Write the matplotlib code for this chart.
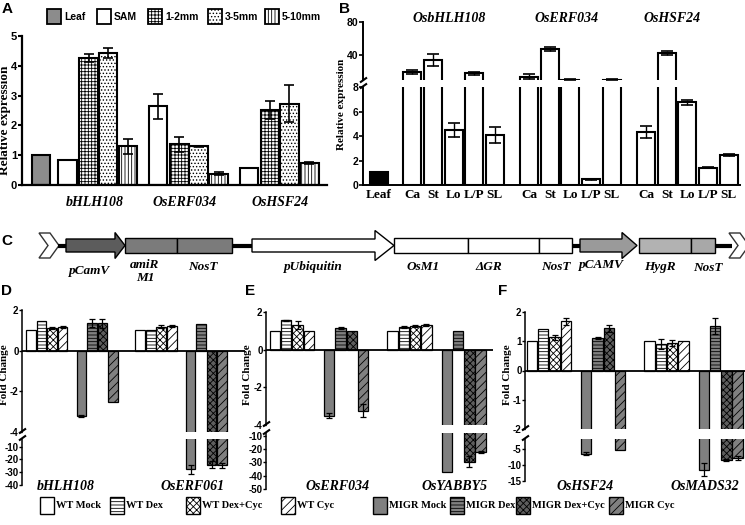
import matplotlib
matplotlib.use("Agg")
import matplotlib.pyplot as plt
from matplotlib.patches import Rectangle, Polygon
import numpy as np

W, H = 745, 525
plt.rcParams['hatch.linewidth'] = 0.6
plt.rcParams['axes.unicode_minus'] = False
SERIF = 'Liberation Serif'
SANS = 'Liberation Sans'

# ---------------- panel A: expression across stages
a_genes = ['bHLH108', 'OsERF034', 'OsHSF24']
a_stages = ['SAM', '1-2mm', '3-5mm', '5-10mm']
a_leaf = 1.0
a_vals = [[0.83, 4.27, 4.42, 1.30],
          [2.65, 1.37, 1.30, 0.38],
          [0.58, 2.52, 2.72, 0.73]]
a_errs = [[0.0, 0.13, 0.17, 0.25],
          [0.42, 0.25, 0.02, 0.05],
          [0.0, 0.30, 0.62, 0.04]]

# ---------------- panel B: expression across tissues
b_genes = ['OsbHLH108', 'OsERF034', 'OsHSF24']
b_tissues = ['Ca', 'St', 'Lo', 'L/P', 'SL']
b_leaf = 1.05
b_vals = [[19.5, 34.0, 4.5, 18.0, 4.1],
          [13.7, 47.0, 10.6, 0.45, 10.6],
          [4.3, 42.5, 6.75, 1.4, 2.45]]
b_errs = [[2.0, 7.0, 0.55, 1.5, 0.65],
          [3.0, 2.4, 0.5, 0.05, 0.2],
          [0.5, 2.8, 0.18, 0.05, 0.1]]

# ---------------- panels D-F: fold change
conds = ['WT Mock', 'WT Dex', 'WT Dex+Cyc', 'WT Cyc',
         'MIGR Mock', 'MIGR Dex', 'MIGR Dex+Cyc', 'MIGR Cyc']
d_genes = ['bHLH108', 'OsERF061']
d_vals = [[1.0, 1.48, 1.12, 1.17, -3.2, 1.35, 1.35, -2.5],
          [1.0, 1.0, 1.18, 1.2, -27.5, 1.3, -24.0, -24.5]]
d_errs = [[0, 0, 0.06, 0.04, 0.04, 0.2, 0.22, 0],
          [0, 0, 0.08, 0.06, 3.5, 0, 3.0, 2.0]]
e_genes = ['OsERF034', 'OsYABBY5']
e_vals = [[1.0, 1.55, 1.3, 1.0, -3.5, 1.17, 1.0, -3.25],
          [1.0, 1.2, 1.25, 1.3, -37.0, 1.0, -29.5, -22.5]]
e_errs = [[0, 0.05, 0.2, 0, 0.15, 0.05, 0, 0.35],
          [0, 0.05, 0.05, 0.05, 0, 0, 4.0, 0.8]]
f_genes = ['OsHSF24', 'OsMADS32']
f_vals = [[1.0, 1.42, 1.13, 1.68, -6.5, 1.1, 1.45, -5.3],
          [1.0, 0.9, 0.93, 1.0, -11.5, 1.52, -8.5, -8.0]]
f_errs = [[0, 0, 0.1, 0.13, 0.5, 0.03, 0.12, 0],
          [0, 0.18, 0.1, 0, 2.0, 0.27, 0.4, 0.6]]

cond_fill = ['white', 'white', 'white', 'white', '#808080', '#808080', '#5e5e5e', '#808080']
cond_hatch = ['', '-----', 'xxxxx', '////', '', '-----', 'xxxxx', '////']

# ---------------- construct (panel C)
c_parts = ['pCamV', 'amiR\nM1', 'NosT', 'pUbiquitin', 'OsM1', '\u0394GR', 'NosT', 'pCAMV', 'HygR', 'NosT']

fig = plt.figure(figsize=(W / 100, H / 100), dpi=100)


def px_axes(x0, y0, x1, y1):
    return fig.add_axes([x0 / W, 1 - y1 / H, (x1 - x0) / W, (y1 - y0) / H])


def clean(ax, lw=1.2, bottom=False):
    for s in ['top', 'right']:
        ax.spines[s].set_visible(False)
    ax.spines['bottom'].set_visible(bottom)
    ax.spines['left'].set_linewidth(lw)
    ax.spines['bottom'].set_linewidth(lw)
    ax.patch.set_alpha(0)


def bold_ticks(ax, size, fam=SANS):
    for t in ax.get_yticklabels():
        t.set_fontfamily(fam)
        t.set_fontweight('bold')
        t.set_fontsize(size)


# ---------------- A
axA = px_axes(22, 36, 327, 185)
a_c0, a_slot = 41, 19.5
stage_off = [0, 1.08, 2.08, 3.1]
a_hatch = ['', '+++++', '.....', '|||||']
axA.bar(0, a_leaf, width=0.95, color='#8c8c8c', edgecolor='k', lw=1.5)
for g in range(len(a_genes)):
    xs = [1.36 + 4.65 * g + o for o in stage_off]
    for k in range(4):
        axA.bar(xs[k], a_vals[g][k], width=0.95, color='white',
                edgecolor='k', lw=1.5, hatch=a_hatch[k])
        if a_errs[g][k] > 0:
            axA.errorbar(xs[k], a_vals[g][k], yerr=a_errs[g][k], fmt='none',
                         ecolor='k', elinewidth=1.2, capsize=3.5, capthick=1.2)
axA.set_xlim((22 - a_c0) / a_slot, (327 - a_c0) / a_slot)
axA.set_ylim(0, 5)
axA.set_yticks(range(6))
axA.set_xticks([])
clean(axA, lw=1.6, bottom=True)
axA.tick_params(axis='y', length=3, width=1.5, pad=0.5)
bold_ticks(axA, 8)

# ---------------- B (broken axis)
b_c0, b_slot = 379, 20.7
axBu = px_axes(363, 22, 740, 80)
axBl = px_axes(363, 87, 740, 185)
b_x = [0] + [1.6 + 5.65 * g + k for g in range(3) for k in range(5)]
b_y = [b_leaf] + [v for row in b_vals for v in row]
b_e = [0] + [v for row in b_errs for v in row]
b_col = ['k'] + ['white'] * 15
for ax, lim in ((axBu, (10, 80)), (axBl, (0, 8))):
    for x, y, e, c in zip(b_x, b_y, b_e, b_col):
        if y <= lim[0]:
            continue
        ax.bar(x, y, width=0.87, color=c, edgecolor='k', lw=1.5)
        if e > 0 and y <= lim[1]:
            ax.errorbar(x, y, yerr=e, fmt='none', ecolor='k', elinewidth=1.0,
                        capsize=4, capthick=1.2)
    ax.set_xlim((363 - b_c0) / b_slot, (740 - b_c0) / b_slot)
    ax.set_ylim(*lim)
axBu.set_yticks([40, 80])
axBu.set_xticks([])
clean(axBu, lw=1.4)
axBl.set_yticks([0, 2, 4, 6, 8])
clean(axBl, lw=1.4, bottom=True)
axBl.set_xticks(b_x)
axBl.set_xticklabels(['Leaf'] + b_tissues * 3, fontfamily=SERIF,
                     fontweight='bold', fontsize=9.5)
axBl.tick_params(axis='x', length=0, pad=3)
for ax in (axBu, axBl):
    ax.tick_params(axis='y', length=3, width=1.2, pad=0.5)
    bold_ticks(ax, 7.5)


# ---------------- D, E, F
def fold_panel(x0, x1, y_top, y_m1, y_m2, y_bot, up_lim, low_lim, up_ticks,
               low_ticks, c0, slot, vals, errs):
    au = px_axes(x0, y_top, x1, y_m1)
    al = px_axes(x0, y_m2, x1, y_bot)
    pos = [0, 1, 2, 3, 4.8, 5.8, 6.8, 7.8]
    for ax, lim in ((au, up_lim), (al, low_lim)):
        for g in range(len(vals)):
            for k in range(8):
                x = pos[k] + 10.4 * g
                v = vals[g][k]
                if v >= lim[1]:
                    continue  # bar does not reach this segment
                ax.bar(x, v, width=0.92, color=cond_fill[k],
                       edgecolor='k', lw=0.9, hatch=cond_hatch[k])
                if errs[g][k] > 0 and lim[0] <= v:
                    ax.errorbar(x, v, yerr=errs[g][k], fmt='none',
                                ecolor='k', elinewidth=0.9, capsize=2.2,
                                capthick=0.9)
        ax.set_xlim((x0 - c0) / slot, (x1 - c0) / slot)
        ax.set_ylim(*lim)
        ax.set_xticks([])
        clean(ax, lw=1.1)
        ax.tick_params(axis='y', length=2, width=1.0, pad=0.5)
    au.axhline(0, color='k', lw=1.3)
    au.set_yticks(up_ticks)
    al.set_yticks(low_ticks)
    for ax in (au, al):
        bold_ticks(ax, 7)
    return au, al


fold_panel(22, 245, 310, 432, 439, 485, (-4, 2), (-40, -4), [2, 0, -2, -4],
           [-10, -20, -30, -40], 31, 10.5, d_vals, d_errs)
fold_panel(266, 493, 312, 425, 433, 489, (-4, 2), (-50, -8), [2, 0, -2, -4],
           [-10, -20, -30, -40, -50], 275, 11.3, e_vals, e_errs)
fold_panel(525, 745, 312, 429, 439, 481, (-2, 2), (-15, -2), [2, 1, 0, -1, -2],
           [-5, -10, -15], 532, 11.3, f_vals, f_errs)

# ---------------- overlay: labels, diagram, legends
ov = fig.add_axes([0, 0, 1, 1], zorder=20)
ov.set_xlim(0, W)
ov.set_ylim(H, 0)
ov.axis('off')
ov.patch.set_visible(False)

for lab, x, y in [('A', 7, 9), ('B', 345, 9), ('C', 7, 241),
                  ('D', 7, 291), ('E', 250, 291), ('F', 503, 291)]:
    ov.text(x, y, lab, fontfamily=SANS, fontweight='bold', fontsize=11,
            ha='center', va='center')

# A legend
a_leg_x = [47, 97, 148, 208, 265]
a_leg_fill = ['#8c8c8c', 'white', 'white', 'white', 'white']
a_leg_hatch = [''] + a_hatch
for x, lab, fc, h in zip(a_leg_x, ['Leaf'] + a_stages, a_leg_fill, a_leg_hatch):
    ov.add_patch(Rectangle((x, 9), 14, 15, facecolor=fc, edgecolor='k', lw=1.3, hatch=h))
    ov.text(x + 17, 16.5, lab, fontfamily=SANS, fontweight='bold', fontsize=7.5,
            ha='left', va='center')

# A gene labels and ylabel
for x, lab in zip([95, 185, 280], a_genes):
    ov.text(x, 203, lab, fontfamily=SERIF, fontweight='bold', style='italic',
            fontsize=10, ha='center', va='center')
ov.text(5.5, 120, 'Relative expression', fontfamily=SERIF, fontweight='bold',
        fontsize=9.5, rotation=90, ha='center', va='center')

# B titles and ylabel
for x, lab in zip([449, 567, 672], b_genes):
    ov.text(x, 18, lab, fontfamily=SERIF, fontweight='bold', style='italic',
            fontsize=10, ha='center', va='center')
ov.text(341, 104, 'Relative expression', fontfamily=SERIF, fontweight='bold',
        fontsize=8, rotation=90, ha='center', va='center')

# break marks
for x, ys in [(363, (80, 86)), (22, (431, 438)), (266, (424, 432)), (525, (428, 438))]:
    for y in ys:
        ov.plot([x - 3, x + 4], [y + 2.5, y - 2.5], color='k', lw=1.5,
                solid_capstyle='butt')

# construct diagram
yc = 245.5


def chevron(x0):
    return Polygon([(x0, 233), (x0 + 11, 233), (x0 + 20, yc), (x0 + 11, 258),
                    (x0, 258), (x0 + 9, yc)], closed=True, facecolor='white',
                   edgecolor='#333333', lw=1.0)


def arrow(x0, x1, tip, half, col):
    return Polygon([(x0, 239), (x1, 239), (x1, yc - half), (tip, yc), (x1, yc + half),
                    (x1, 252), (x0, 252)], closed=True, facecolor=col,
                   edgecolor='k', lw=1.0)


for xa, xb in [(58, 66), (232, 252), (572, 580), (715, 732)]:
    ov.plot([xa, xb], [yc, yc], color='k', lw=3, solid_capstyle='butt')
ov.add_patch(chevron(39))
ov.add_patch(chevron(729))
ov.add_patch(arrow(66, 115, 125, 13, '#5c5c5c'))
ov.add_patch(arrow(252, 375, 394, 15, 'white'))
ov.add_patch(arrow(580, 622, 637, 13, '#9a9a9a'))
for x0, x1, col in [(125, 177, '#7b7b7b'), (177, 232, '#7b7b7b'),
                    (394, 468, 'white'), (468, 539, 'white'), (539, 572, 'white'),
                    (639, 691, '#b2b2b2'), (691, 715, '#a8a8a8')]:
    ov.add_patch(Rectangle((x0, 238), x1 - x0, 15, facecolor=col, edgecolor='k', lw=1.0))

c_lab_x = [90, 145, 203, 313, 423, 489, 556, 601, 660, 708]
c_lab_y = [271, 259, 267, 267, 267, 267, 267, 265, 267, 268]
for x, y, lab in zip(c_lab_x, c_lab_y, c_parts):
    ov.text(x, y, lab, fontfamily=SERIF, fontweight='bold', style='italic',
            fontsize=9.5, ha='center', va='top' if '\n' in lab else 'center',
            linespacing=1.1)

# fold change ylabels and gene labels
for x in [5, 248, 508]:
    ov.text(x, 375, 'Fold Change', fontfamily=SERIF, fontweight='bold',
            fontsize=8, rotation=90, ha='center', va='center')
for x, lab in zip([66, 193, 338, 455, 585, 705], d_genes + e_genes + f_genes):
    ov.text(x, 486, lab, fontfamily=SERIF, fontweight='bold', style='italic',
            fontsize=10, ha='center', va='center')

# bottom legend
leg_x = [40, 110, 186, 281, 373, 450, 516, 609]
for x, lab, fc, h in zip(leg_x, conds, cond_fill, cond_hatch):
    ov.add_patch(Rectangle((x, 497), 14, 17, facecolor=fc, edgecolor='k', lw=1.0, hatch=h))
    ov.text(x + 16, 506, lab, fontfamily=SERIF, fontweight='bold', fontsize=7.5,
            ha='left', va='center')

fig.savefig('out.png', dpi=100)
